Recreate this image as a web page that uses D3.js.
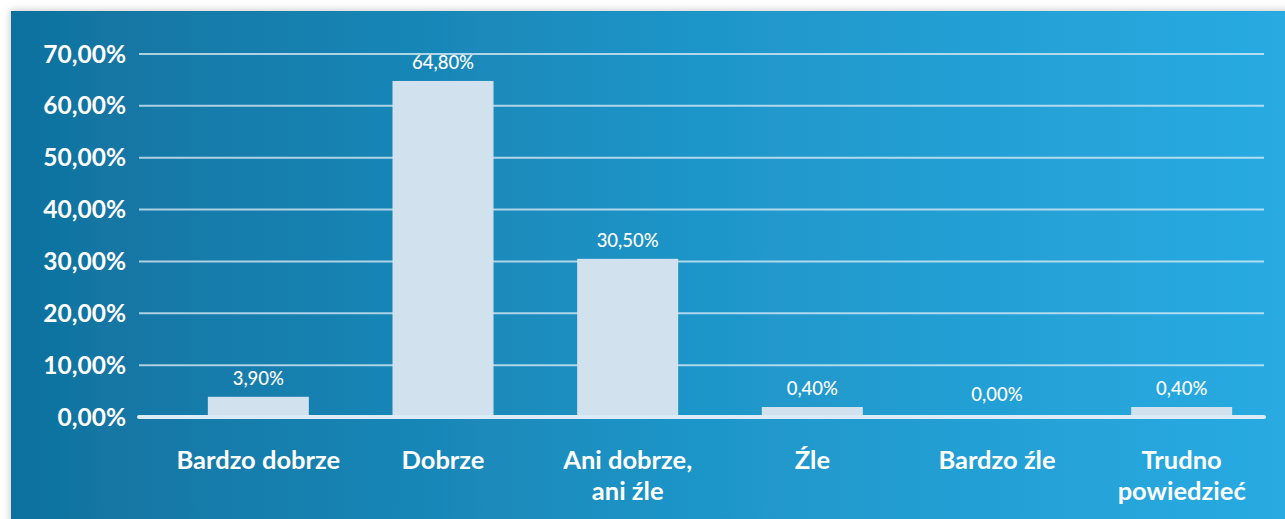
<!DOCTYPE html>
<html>
<head>
<meta charset="utf-8">
<script src="https://cdn.jsdelivr.net/npm/d3@7"></script>
<style>
  html, body { margin: 0; padding: 0; background: #ffffff; overflow: hidden; }
  svg { display: block; font-family: Lato, "Open Sans", sans-serif; }
</style>
</head>
<body>
<svg id="chart"></svg>
<script>
var categories = [["Bardzo dobrze"], ["Dobrze"], ["Ani dobrze,", "ani źle"], ["Źle"], ["Bardzo źle"], ["Trudno", "powiedzieć"]];
var values = [3.9, 64.8, 30.5, 0.4, 0.0, 0.4];
var yTicks = [0, 10, 20, 30, 40, 50, 60, 70];

var W = 1285, H = 519;
var pl = d3.formatLocale({decimal: ",", thousands: " ", grouping: [3], currency: ["", " zł"]});
var fmt = function(v){ return pl.format(".2f")(v) + "%"; };

var svg = d3.select("#chart").attr("width", W).attr("height", H);
var defs = svg.append("defs");

var grad = defs.append("linearGradient").attr("id", "bg").attr("x1", "0%").attr("x2", "100%");
grad.append("stop").attr("offset", "0%").attr("stop-color", "#10719e");
grad.append("stop").attr("offset", "55%").attr("stop-color", "#1f96c9");
grad.append("stop").attr("offset", "100%").attr("stop-color", "#29abe2");

var sh = defs.append("filter").attr("id", "shadow").attr("x", "-5%").attr("y", "-5%").attr("width", "110%").attr("height", "110%");
sh.append("feDropShadow").attr("dx", 0).attr("dy", 0).attr("stdDeviation", 4).attr("flood-color", "#000").attr("flood-opacity", 0.25);

// panel
svg.append("rect")
    .attr("x", 11).attr("y", 11)
    .attr("width", W).attr("height", H)
    .attr("fill", "url(#bg)")
    .attr("filter", "url(#shadow)");

var y = d3.scaleLinear().domain([0, 70]).range([417, 54]);
var x = d3.scaleBand()
    .domain(d3.range(categories.length))
    .range([166, 1274])
    .paddingInner(0.453)
    .paddingOuter(0.2265);

// grid
var gridX0 = 139, gridX1 = 1264;
svg.append("g").selectAll("line")
    .data(yTicks.filter(function(t){ return t > 0; }))
    .enter().append("line")
    .attr("x1", gridX0).attr("x2", gridX1)
    .attr("y1", function(d){ return y(d); })
    .attr("y2", function(d){ return y(d); })
    .attr("stroke", "rgba(225,238,248,0.75)")
    .attr("stroke-width", 2);

// y tick labels
svg.append("g").selectAll("text")
    .data(yTicks)
    .enter().append("text")
    .attr("x", 126)
    .attr("y", function(d){ return y(d); })
    .attr("dy", "0.35em")
    .attr("text-anchor", "end")
    .attr("fill", "#ffffff")
    .attr("font-size", 24.5)
    .attr("font-weight", 700)
    .text(function(d){ return fmt(d); });

// bars
function barTop(v){
    if (v <= 0) return y(0);
    return Math.min(y(v), y(0) - 10);
}
svg.append("g").selectAll("rect")
    .data(values)
    .enter().append("rect")
    .attr("x", function(d, i){ return x(i); })
    .attr("width", x.bandwidth())
    .attr("y", function(d){ return barTop(d); })
    .attr("height", function(d){ return y(0) - barTop(d); })
    .attr("fill", "#d1e1ee");

// zero axis line
svg.append("line")
    .attr("x1", gridX0).attr("x2", gridX1)
    .attr("y1", y(0)).attr("y2", y(0))
    .attr("stroke", "#dcebf6")
    .attr("stroke-width", 4)
    .attr("stroke-linecap", "round");

// value labels
svg.append("g").selectAll("text")
    .data(values)
    .enter().append("text")
    .attr("x", function(d, i){ return x(i) + x.bandwidth() / 2; })
    .attr("y", function(d){ return (d > 0 ? barTop(d) : y(0) - 4) - 12; })
    .attr("text-anchor", "middle")
    .attr("fill", "#ffffff")
    .attr("font-size", 18.5)
    .attr("font-weight", 500)
    .text(function(d){ return fmt(d); });

// category labels
var cat = svg.append("g").selectAll("text")
    .data(categories)
    .enter().append("text")
    .attr("x", function(d, i){ return x(i) + x.bandwidth() / 2; })
    .attr("y", 469)
    .attr("text-anchor", "middle")
    .attr("fill", "#ffffff")
    .attr("font-size", 25.5)
    .attr("font-weight", 700);
cat.selectAll("tspan")
    .data(function(d){ return d; })
    .enter().append("tspan")
    .attr("x", function(){ return d3.select(this.parentNode).attr("x"); })
    .attr("dy", function(d, i){ return i === 0 ? 0 : 31; })
    .text(function(d){ return d; });
</script>
</body>
</html>
